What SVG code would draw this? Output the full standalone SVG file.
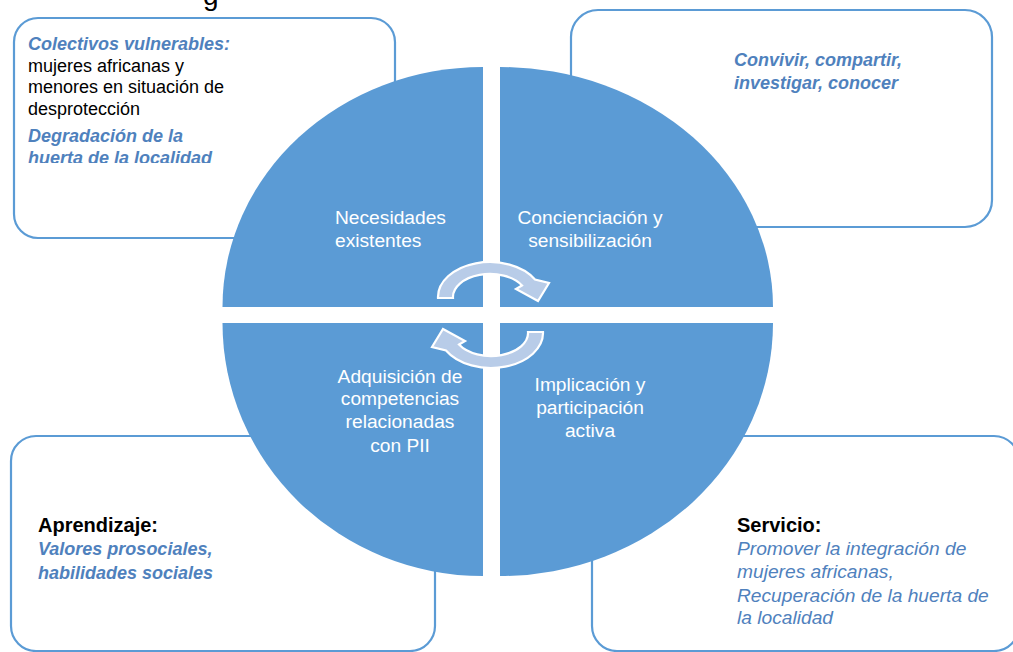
<svg xmlns="http://www.w3.org/2000/svg" width="1013" height="652" viewBox="0 0 1013 652">
<style>
.box{fill:#fff;stroke:#5B9BD5;stroke-width:2.2}
.q{fill:#5B9BD5}
.qt{font-family:"Liberation Sans",Arial,sans-serif;font-size:19.2px;fill:#fff}
.m{text-anchor:middle}
.t{font-family:"Liberation Sans",Arial,sans-serif;font-size:18px}
.bi{font-weight:bold;font-style:italic;fill:#4F81BD}
.blk{fill:#000}
.hd{font-weight:bold;fill:#000;font-size:20px}
.it{font-style:italic;fill:#4F81BD;font-size:19.2px}
.arr{fill:#B8CCE8;stroke:#fff;stroke-width:2.2;stroke-linejoin:miter}
</style>
<defs>
<clipPath id="clipTL"><rect x="14" y="18" width="381" height="145"/></clipPath>
</defs>
<rect width="1013" height="652" fill="#fff"/>
<text x="203" y="5" font-family="Liberation Sans, Arial, sans-serif" font-size="28" fill="#000">g</text>

<g id="box-necesidades">
<rect class="box" x="14" y="18" width="381" height="220" rx="24"/>
<g clip-path="url(#clipTL)">
<text class="t bi" x="28" y="50">Colectivos vulnerables:</text>
<text class="t blk" x="28" y="72">mujeres africanas y</text>
<text class="t blk" x="28" y="93">menores en situación de</text>
<text class="t blk" x="28" y="115">desprotección</text>
<text class="t bi" x="28" y="142">Degradación de la</text>
<text class="t bi" x="28" y="164">huerta de la localidad</text>
</g>
</g>

<g id="box-concienciacion">
<rect class="box" x="571" y="10" width="421" height="217" rx="27"/>
<text class="t bi" x="734" y="66">Convivir, compartir,</text>
<text class="t bi" x="734" y="89">investigar, conocer</text>
</g>

<g id="box-aprendizaje">
<rect class="box" x="11" y="436" width="424" height="215" rx="25"/>
<text class="t hd" x="38" y="532">Aprendizaje:</text>
<text class="t bi" x="38" y="555">Valores prosociales,</text>
<text class="t bi" x="38" y="579">habilidades sociales</text>
</g>

<g id="box-servicio">
<rect class="box" x="592" y="436" width="427" height="215" rx="25"/>
<text class="t hd" x="737" y="532">Servicio:</text>
<text class="t it" x="737" y="555">Promover la integración de</text>
<text class="t it" x="737" y="578">mujeres africanas,</text>
<text class="t it" x="737" y="602">Recuperación de la huerta de</text>
<text class="t it" x="737" y="624">la localidad</text>
</g>

<g id="q-necesidades">
<path class="q" d="M483,307 L222.5,307 A260.5,240 0 0 1 483,67 Z"/>
<text class="qt" x="335" y="224">Necesidades</text>
<text class="qt" x="335" y="247">existentes</text>
</g>

<g id="q-concienciacion">
<path class="q" d="M500,307 L500,67 A273,240 0 0 1 773,307 Z"/>
<text class="qt m" x="590" y="224">Concienciación y</text>
<text class="qt m" x="590" y="247">sensibilización</text>
</g>

<g id="q-implicacion">
<path class="q" d="M500,323 L773,323 A273,253 0 0 1 500,576 Z"/>
<text class="qt m" x="590" y="391">Implicación y</text>
<text class="qt m" x="590" y="414">participación</text>
<text class="qt m" x="590" y="437">activa</text>
</g>

<g id="q-adquisicion">
<path class="q" d="M483,323 L483,576 A260.5,253 0 0 1 222.5,323 Z"/>
<text class="qt m" x="400" y="383">Adquisición de</text>
<text class="qt m" x="400" y="405">competencias</text>
<text class="qt m" x="400" y="428">relacionadas</text>
<text class="qt m" x="400" y="452">con PII</text>
</g>

<g id="connectors">
<path class="arr" d="M438,298 A52,35 0 0 1 535,279.5 L549,283 L538,301 L516,289 L522,285.5 A37,23 0 0 0 453,298 Z"/>
<path class="arr" transform="rotate(180 490.5 315)" d="M438,298 A52,35 0 0 1 535,279.5 L549,283 L538,301 L516,289 L522,285.5 A37,23 0 0 0 453,298 Z"/>
</g>
</svg>
